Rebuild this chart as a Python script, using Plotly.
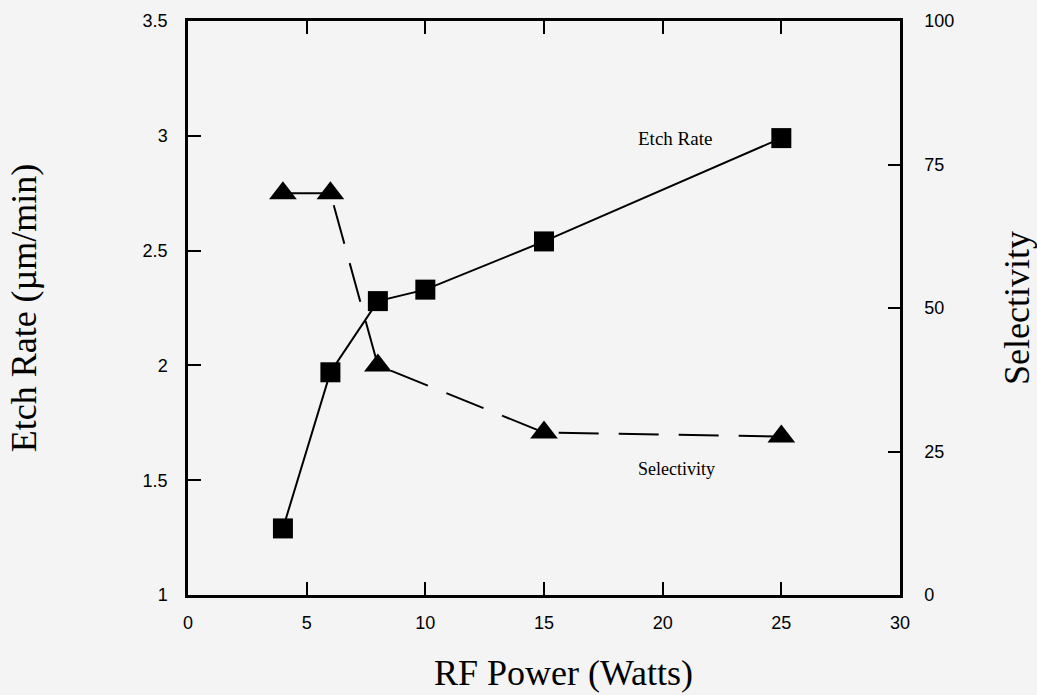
import plotly.graph_objects as go

power_etch = [4, 6, 8, 10, 15, 25]
etch_rate = [1.29, 1.97, 2.28, 2.33, 2.54, 2.99]

power_sel = [4, 6, 8, 15, 25]
selectivity = [70, 70, 40, 28.3, 27.6]

x_ticks = [0, 5, 10, 15, 20, 25, 30]
y_ticks = [1, 1.5, 2, 2.5, 3, 3.5]
y2_ticks = [0, 25, 50, 75, 100]

X_RANGE = [0, 30]
Y_RANGE = [1, 3.5]
Y2_RANGE = [0, 100]

BG = "#f4f4f4"
tick_font = dict(family="Liberation Sans, Arial", size=18, color="black")
serif = "Liberation Serif, Times New Roman"

W, H = 1037, 695
ML, MR, MT, MB = 188, 137, 21, 100
PW, PH = W - ML - MR, H - MT - MB
TL = 13  # inward tick length in px

fig = go.Figure()
fig.add_trace(go.Scatter(
    x=power_etch, y=etch_rate, mode="lines+markers",
    line=dict(color="black", width=2),
    marker=dict(symbol="square", size=20, color="black"),
    showlegend=False))
fig.add_trace(go.Scatter(
    x=power_sel, y=selectivity, mode="lines+markers", yaxis="y2",
    line=dict(color="black", width=2, dash="40px,20px"),
    marker=dict(symbol="triangle-up", size=24, color="black"),
    showlegend=False))

# thin helper strips along each edge: their grid lines form the inward ticks
for xa, ya in [("x4", "y5"), ("x5", "y6"), ("x6", "y7"), ("x7", "y8")]:
    fig.add_trace(go.Scatter(
        x=power_etch, y=etch_rate, xaxis=xa, yaxis=ya, mode="markers",
        marker=dict(opacity=0), hoverinfo="skip", showlegend=False))

fig.add_annotation(x=20.5, y=2.99, text="Etch Rate", showarrow=False,
                   font=dict(family=serif, size=19, color="black"))
fig.add_annotation(x=20.6, y=22, yref="y2", text="Selectivity", showarrow=False,
                   font=dict(family=serif, size=18, color="black"))
fig.add_annotation(x=0.528, y=-0.136, xref="paper", yref="paper",
                   text="RF Power (Watts)", showarrow=False,
                   xanchor="center", yanchor="middle",
                   font=dict(family=serif, size=36, color="black"))

grid_axis = dict(showgrid=True, gridcolor="black", gridwidth=2, ticks="",
                 showticklabels=False, showline=False, zeroline=False,
                 automargin=False, fixedrange=True)
blank_axis = dict(showgrid=False, ticks="", showticklabels=False,
                  showline=False, zeroline=False, automargin=False,
                  range=[0, 1], fixedrange=True)

fig.update_layout(
    template="none",
    width=W, height=H,
    margin=dict(l=ML, r=MR, t=MT, b=MB),
    paper_bgcolor=BG, plot_bgcolor="rgba(0,0,0,0)",
    xaxis=dict(range=X_RANGE, tickvals=x_ticks, ticks="", showline=True,
               linecolor="black", linewidth=2.5, mirror=True, showgrid=False,
               zeroline=False, tickfont=tick_font, ticklabelstandoff=10,
               automargin=False),
    yaxis=dict(range=Y_RANGE, tickvals=y_ticks, ticks="", showline=True,
               linecolor="black", linewidth=2.5, showgrid=False, zeroline=False,
               tickfont=tick_font, ticklabelstandoff=14, automargin=False,
               title=dict(text="Etch Rate (µm/min)", standoff=96,
                          font=dict(family=serif, size=36, color="black"))),
    yaxis2=dict(range=Y2_RANGE, tickvals=y2_ticks, overlaying="y", side="right",
                ticks="", showline=True, linecolor="black", linewidth=2.5,
                showgrid=False, zeroline=False, tickfont=tick_font,
                ticklabelstandoff=18, automargin=False,
                title=dict(text="Selectivity", standoff=55,
                           font=dict(family=serif, size=36, color="black"))),
    # bottom inward ticks
    xaxis4=dict(grid_axis, range=X_RANGE, tickvals=x_ticks, anchor="y5"),
    yaxis5=dict(blank_axis, domain=[0, TL / PH], anchor="x4"),
    # top inward ticks
    xaxis5=dict(grid_axis, range=X_RANGE, tickvals=x_ticks, anchor="y6"),
    yaxis6=dict(blank_axis, domain=[1 - TL / PH, 1], anchor="x5"),
    # left inward ticks
    yaxis7=dict(grid_axis, range=Y_RANGE, tickvals=y_ticks, anchor="x6"),
    xaxis6=dict(blank_axis, domain=[0, TL / PW], anchor="y7"),
    # right inward ticks
    yaxis8=dict(grid_axis, range=Y2_RANGE, tickvals=y2_ticks, anchor="x7"),
    xaxis7=dict(blank_axis, domain=[1 - 12 / PW, 1], anchor="y8"),
)

fig.write_html("out.html")
